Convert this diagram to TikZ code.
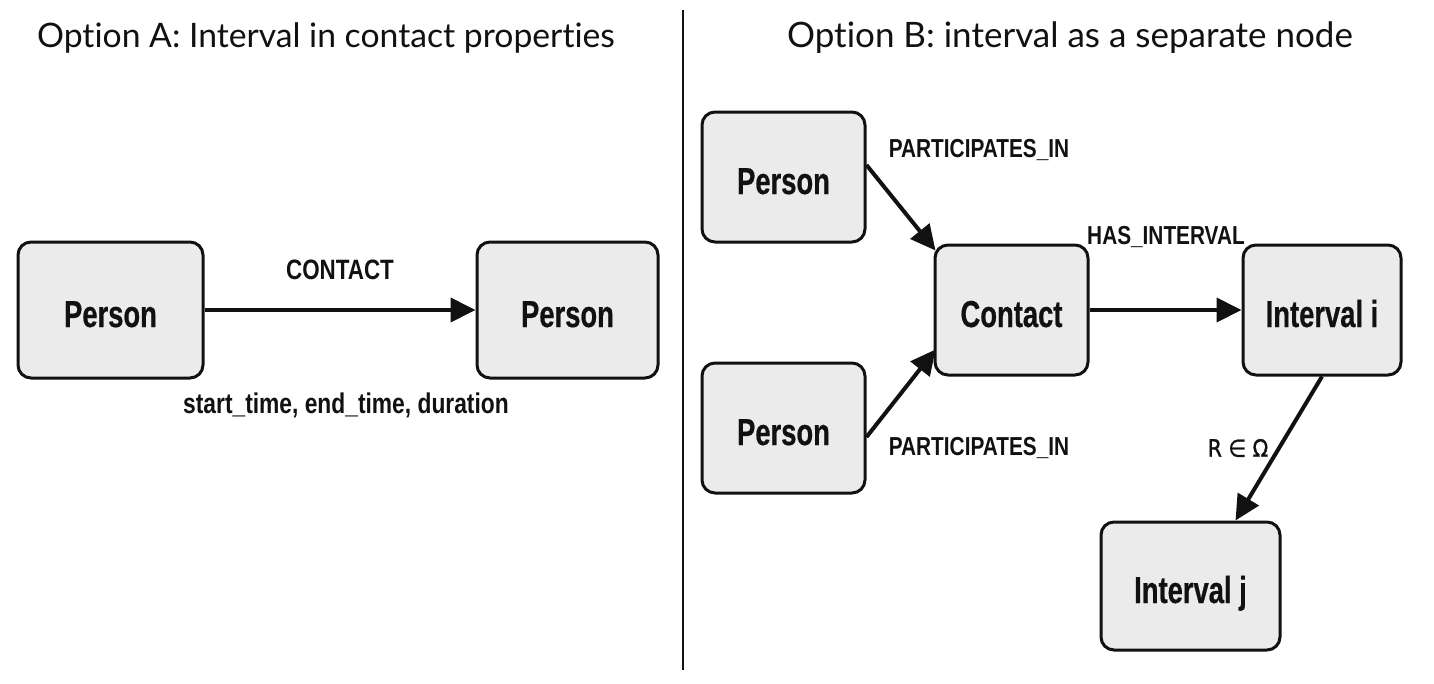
\documentclass[tikz,border=0pt]{standalone}
\usepackage{fontspec}
\usetikzlibrary{arrows.meta,calc}
\newfontfamily\lblfont[FakeStretch=0.8]{Liberation Sans}
\newfontfamily\boxfont[FakeStretch=0.73,FakeBold=0.5]{Liberation Sans}
\newfontfamily\titlefont[Ligatures=NoCommon]{Lato}
\newfontfamily\relfont[FakeStretch=0.85,FakeBold=1.2]{DejaVu Sans}
\definecolor{boxfill}{HTML}{EBEBEB}
\definecolor{ink}{HTML}{111111}
\tikzset{
  entity/.style={draw=ink, line width=3pt, fill=boxfill, rounded corners=13pt,
    inner sep=0pt, text height=34pt, text depth=0pt,
    font=\boxfont\bfseries\fontsize{37.5}{42}\selectfont, text=ink},
  rel/.style={draw=ink, line width=4pt, -{Triangle[length=25pt,width=24pt]}},
  elabel/.style={inner sep=0pt, font=\lblfont\bfseries\fontsize{26}{30}\selectfont, text=ink},
  elabelA/.style={inner sep=0pt, font=\lblfont\bfseries\fontsize{28}{32}\selectfont, text=ink},
  title/.style={inner sep=0pt, font=\titlefont\fontsize{33.7}{38}\selectfont, text=ink}
}
\begin{document}
\begin{tikzpicture}[x=1pt,y=-1pt]
\useasboundingbox[fill=white] (0,0) rectangle (1434,683);
% divider
\draw[line width=2pt, draw=ink] (683,10) coordinate (d1) -- (683,670) coordinate (d2);
% titles
\node[title] (tA) at (326,38) {Option A: Interval in contact properties};
\node[title, font=\titlefont\fontsize{35}{40}\selectfont] (tB) at (1070,38) {Option B: interval as a separate node};
% Option A
\node[entity, minimum width=185pt, minimum height=136pt] (pA1) at (110.5,310) {Person};
\node[entity, minimum width=181pt, minimum height=136pt] (pA2) at (567.5,310) {Person};
\draw[rel] (pA1) -- (pA2);
\node[elabelA] (lC) at (340,270) {CONTACT};
\node[elabelA, font=\lblfont\bfseries\fontsize{28.5}{32}\selectfont] (lP) at (346,405) {start\_time, end\_time, duration};
% Option B
\node[entity, minimum width=163pt, minimum height=130pt] (pt) at (783.5,177) {Person};
\node[entity, minimum width=163pt, minimum height=130pt] (pb) at (783.5,428) {Person};
\node[entity, minimum width=153pt, minimum height=130pt] (ct) at (1011.5,310) {Contact};
\node[entity, minimum width=158pt, minimum height=130pt] (ii) at (1322,310) {Interval i};
\node[entity, minimum width=179pt, minimum height=128pt] (ij) at (1190.5,586) {Interval j};
\draw[rel] ($(pt.east)+(0,-12)$) -- ($(ct.north west)+(2,7)$);
\draw[rel] ($(pb.east)+(0,9)$) -- ($(ct.south west)+(2,-27)$);
\draw[rel] (ct) -- (ii);
\draw[rel] (ii.south) -- ($(ij.north)+(45,0)$);
\node[elabel] (lp1) at (979,150) {PARTICIPATES\_IN};
\node[elabel] (lp2) at (979,448) {PARTICIPATES\_IN};
\node[elabel] (lh) at (1166,237) {HAS\_INTERVAL};
\node[inner sep=0pt, font=\relfont\fontsize{24}{28}\selectfont, text=ink] (lr) at (1238,448) {R ∈ Ω};
\end{tikzpicture}
\end{document}
